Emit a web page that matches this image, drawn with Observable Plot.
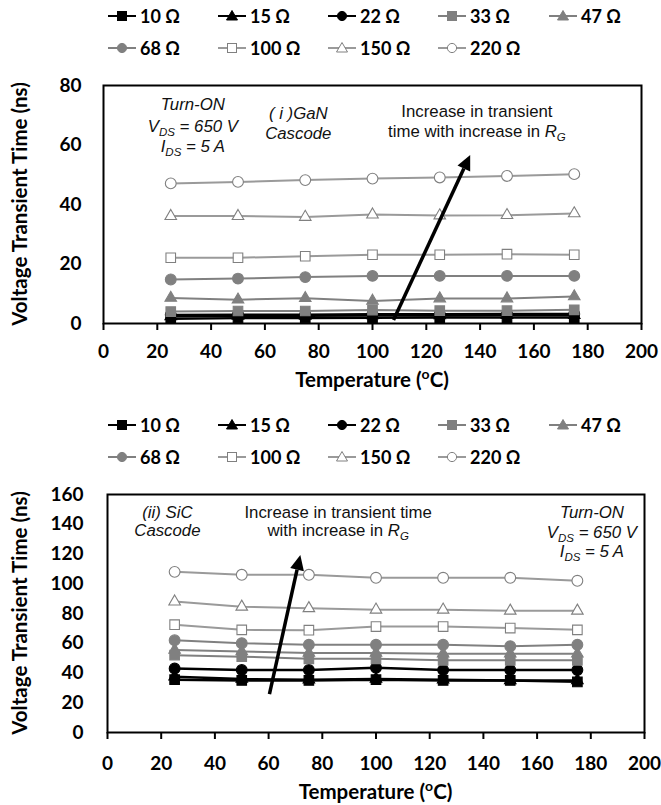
<!DOCTYPE html>
<html><head><meta charset="utf-8">
<script src="https://cdn.jsdelivr.net/npm/d3@7"></script>
<script src="https://cdn.jsdelivr.net/npm/@observablehq/plot@0.6"></script>
<style>
body{margin:0;background:#fff;}
#root{position:relative;width:661px;height:805px;overflow:hidden;font-family:Lato,"Open Sans",sans-serif;}
.legend-item{position:absolute;display:flex;align-items:center;font-weight:bold;font-size:18px;white-space:nowrap;color:#000;transform:translateY(-50%);}
.legend-item svg{margin-right:2px;}
.chart{position:absolute;left:0;}
</style></head>
<body><div id="root"></div>
<script>
// ---------- data ----------
const temperatures = [25, 50, 75, 100, 125, 150, 175];
const resistorLabels = ["10 Ω", "15 Ω", "22 Ω", "33 Ω", "47 Ω", "68 Ω", "100 Ω", "150 Ω", "220 Ω"];
const xTicks = [0, 20, 40, 60, 80, 100, 120, 140, 160, 180, 200];
const ganYTicks = [0, 20, 40, 60, 80];
const sicYTicks = [0, 20, 40, 60, 80, 100, 120, 140, 160];

// (i) GaN cascode, turn-on voltage transient time (ns)
const gan10 = [1.6, 1.8, 1.8, 1.9, 2.0, 2.0, 2.0];
const gan15 = [2.4, 2.6, 2.6, 2.7, 2.7, 2.8, 2.8];
const gan22 = [2.9, 3.0, 3.0, 3.1, 3.1, 3.2, 3.2];
const gan33 = [4.0, 4.2, 4.2, 4.5, 4.3, 4.3, 4.6];
const gan47 = [8.6, 8.0, 8.5, 7.6, 8.4, 8.4, 9.1];
const gan68 = [14.8, 15.1, 15.6, 16.0, 16.0, 16.0, 16.0];
const gan100 = [22.1, 22.1, 22.6, 23.1, 23.1, 23.3, 23.1];
const gan150 = [36.1, 36.1, 35.8, 36.6, 36.3, 36.4, 37.0];
const gan220 = [47.1, 47.6, 48.2, 48.7, 49.1, 49.6, 50.2];

// (ii) SiC cascode, turn-on voltage transient time (ns)
const sic10 = [35.5, 35.0, 35.0, 35.5, 35.0, 35.0, 34.0];
const sic15 = [37.5, 36.0, 35.5, 36.0, 35.5, 35.0, 35.0];
const sic22 = [43.0, 42.0, 42.0, 43.5, 42.0, 42.0, 42.0];
const sic33 = [52.0, 51.0, 49.5, 49.5, 48.5, 48.5, 48.5];
const sic47 = [55.5, 54.5, 53.5, 53.5, 53.0, 53.0, 53.0];
const sic68 = [62.0, 60.0, 59.0, 59.0, 59.0, 58.0, 59.0];
const sic100 = [72.5, 69.0, 68.8, 71.2, 71.2, 70.2, 69.0];
const sic150 = [88.0, 84.5, 83.5, 82.5, 82.5, 81.8, 81.8];
const sic220 = [108.0, 106.0, 106.0, 104.0, 104.0, 104.0, 102.0];

// annotation anchor points (data units)
const ganArrow = [[108, 1.0], [136.5, 56.5]];
const sicArrow = [[60.5, 25.5], [72, 119]];

// ---------- styles ----------
const BLACK = "#000", GREY = "#808080", LIGHT = "#9a9a9a";
const seriesStyles = [
  {symbol: "square", line: BLACK, fill: BLACK, stroke: BLACK},
  {symbol: "triangle", line: BLACK, fill: BLACK, stroke: BLACK},
  {symbol: "circle", line: BLACK, fill: BLACK, stroke: BLACK},
  {symbol: "square", line: GREY, fill: GREY, stroke: GREY},
  {symbol: "triangle", line: GREY, fill: GREY, stroke: GREY},
  {symbol: "circle", line: GREY, fill: GREY, stroke: GREY},
  {symbol: "square", line: LIGHT, fill: "#fff", stroke: GREY},
  {symbol: "triangle", line: LIGHT, fill: "#fff", stroke: GREY},
  {symbol: "circle", line: LIGHT, fill: "#fff", stroke: GREY}
];
const symbolR = {square: 5.4, triangle: 4.3, circle: 5.4};

const root = document.getElementById("root");

function legend(top) {
  const lefts = [108, 218, 328, 438, 549];
  resistorLabels.forEach((lab, i) => {
    const st = seriesStyles[i];
    const row = Math.floor(i / 5), col = i % 5;
    const div = document.createElement("div");
    div.className = "legend-item";
    div.style.left = lefts[col] + "px";
    div.style.top = (top + row * 32) + "px";
    let m = "";
    const cx = 14, cy = 8;
    if (st.symbol === "square") m = `<rect x="${cx-4.5}" y="${cy-4.5}" width="9" height="9" fill="${st.fill}" stroke="${st.stroke}" stroke-width="1"/>`;
    else if (st.symbol === "circle") m = `<circle cx="${cx}" cy="${cy}" r="4.6" fill="${st.fill}" stroke="${st.stroke}" stroke-width="1"/>`;
    else m = `<path d="M${cx},${cy-5.5}L${cx+5.5},${cy+4}L${cx-5.5},${cy+4}Z" fill="${st.fill}" stroke="${st.stroke}" stroke-width="1"/>`;
    div.innerHTML = `<svg width="30" height="16"><line x1="0" x2="28" y1="${cy}" y2="${cy}" stroke="${st.line}" stroke-width="2"/>${m}</svg><span>${lab}</span>`;
    root.appendChild(div);
  });
}

function chart(opts) {
  const {series, yDomain, yTicks, top, height, mt, mb, ml, mr, notes, arrow} = opts;
  const marks = [];
  series.forEach((vals, i) => {
    const st = seriesStyles[i];
    const rows = temperatures.map((t, j) => ({t, v: vals[j]}));
    marks.push(Plot.line(rows, {x: "t", y: "v", stroke: st.line, strokeWidth: i < 3 ? 2.4 : 2}));
    marks.push(Plot.dot(rows, {x: "t", y: "v", symbol: st.symbol, r: symbolR[st.symbol], fill: st.fill, stroke: st.stroke, strokeWidth: 1.1}));
  });
  marks.push(Plot.axisX(xTicks, {tickSize: 7, tickPadding: opts.xPad, strokeWidth: 2, label: null}));
  marks.push(Plot.axisY(yTicks, {tickSize: 0, tickPadding: ml - opts.labelRight, label: null}));
  marks.push(Plot.frame({stroke: "black", strokeWidth: 2}));
  const plot = Plot.plot({
    width: 661, height,
    marginTop: mt, marginBottom: mb, marginLeft: ml, marginRight: mr,
    x: {domain: [0, 200]},
    y: {domain: yDomain},
    style: {fontFamily: "Lato, sans-serif", fontSize: "19px", fontWeight: "bold", color: "#000", background: "transparent", overflow: "visible"},
    marks
  });
  plot.classList.add("chart");
  plot.style.top = top + "px";
  root.appendChild(plot);

  const sx = plot.scale("x"), sy = plot.scale("y");
  const X = d3.scaleLinear(sx.domain, sx.range);
  const Y = d3.scaleLinear(sy.domain, sy.range);
  const svg = d3.select(plot);

  // axis titles
  const xt = svg.append("text")
    .attr("x", (X(0) + X(200)) / 2).attr("y", opts.xTitleY)
    .attr("text-anchor", "middle").attr("dominant-baseline", "middle")
    .attr("font-size", 20.5).attr("font-weight", "bold").attr("fill", "#000");
  xt.append("tspan").text("Temperature (");
  xt.append("tspan").text("o").attr("font-size", 14).attr("dy", -7);
  xt.append("tspan").text("C)").attr("dy", 7);
  svg.append("text")
    .attr("transform", `translate(22,${(Y(yDomain[0]) + Y(yDomain[1])) / 2}) rotate(-90)`)
    .attr("text-anchor", "middle").attr("dominant-baseline", "middle")
    .attr("font-size", 20.5).attr("font-weight", "bold").attr("fill", "#000")
    .text("Voltage Transient Time (ns)");

  // annotations
  notes.forEach(n => {
    const t = svg.append("text")
      .attr("x", X(n.x)).attr("y", Y(n.y))
      .attr("text-anchor", "middle").attr("dominant-baseline", "middle")
      .attr("font-family", "'Liberation Sans', Arial, sans-serif")
      .attr("font-size", 16.8).attr("font-weight", "normal").attr("fill", "#111")
      .attr("font-style", n.italic ? "italic" : "normal");
    n.parts.forEach(p => {
      const s = t.append("tspan").text(p.t);
      if (p.it) s.attr("font-style", "italic");
      if (p.sub) s.attr("font-size", 11.5).attr("dy", 5);
      if (p.up) s.attr("dy", -5);
    });
  });

  // arrow
  const [a, b] = arrow;
  const x1 = X(a[0]), y1 = Y(a[1]), x2 = X(b[0]), y2 = Y(b[1]);
  const ang = Math.atan2(y2 - y1, x2 - x1);
  const hl = 15, hw = 7;
  const bx = x2 - hl * Math.cos(ang), by = y2 - hl * Math.sin(ang);
  svg.append("line").attr("x1", x1).attr("y1", y1).attr("x2", bx).attr("y2", by)
    .attr("stroke", "#000").attr("stroke-width", 3.5);
  const px = -Math.sin(ang), py = Math.cos(ang);
  svg.append("path")
    .attr("d", `M${x2},${y2}L${bx + hw * px},${by + hw * py}L${bx - hw * px},${by - hw * py}Z`)
    .attr("fill", "#000");
}

legend(16);
chart({
  series: [gan10, gan15, gan22, gan33, gan47, gan68, gan100, gan150, gan220],
  yDomain: [0, 80], yTicks: ganYTicks,
  top: 70, height: 330, mt: 15, mb: 77, ml: 103, mr: 20, labelRight: 81,
  xPad: 14, xTitleY: 312,
  arrow: ganArrow,
  notes: [
    {x: 33.4, y: 72.9, italic: true, parts: [{t: "Turn-ON"}]},
    {x: 33.4, y: 65.5, italic: true, parts: [{t: "V"}, {t: "DS", sub: true}, {t: " = 650 V", up: true}]},
    {x: 33.4, y: 58.8, italic: true, parts: [{t: "I"}, {t: "DS", sub: true}, {t: " = 5 A", up: true}]},
    {x: 72.6, y: 70.0, italic: true, parts: [{t: "( i )GaN"}]},
    {x: 72.6, y: 63.3, italic: true, parts: [{t: "Cascode"}]},
    {x: 139, y: 70.6, italic: false, parts: [{t: "Increase in transient"}]},
    {x: 139, y: 63.8, italic: false, parts: [{t: "time with increase in "}, {t: "R", it: true}, {t: "G", it: true, sub: true}]}
  ]
});

legend(425);
chart({
  series: [sic10, sic15, sic22, sic33, sic47, sic68, sic100, sic150, sic220],
  yDomain: [0, 160], yTicks: sicYTicks,
  top: 480, height: 325, mt: 14, mb: 73, ml: 107, mr: 17, labelRight: 83,
  xPad: 17, xTitleY: 314,
  arrow: sicArrow,
  notes: [
    {x: 22.5, y: 146.4, italic: true, parts: [{t: "(ii) SiC"}]},
    {x: 22.5, y: 134.7, italic: true, parts: [{t: "Cascode"}]},
    {x: 86.1, y: 146.4, italic: false, parts: [{t: "Increase in transient time"}]},
    {x: 86.1, y: 134.7, italic: false, parts: [{t: "with increase in "}, {t: "R", it: true}, {t: "G", it: true, sub: true}]},
    {x: 180.6, y: 146.4, italic: true, parts: [{t: "Turn-ON"}]},
    {x: 180.6, y: 133.4, italic: true, parts: [{t: "V"}, {t: "DS", sub: true}, {t: " = 650 V", up: true}]},
    {x: 180.6, y: 120.6, italic: true, parts: [{t: "I"}, {t: "DS", sub: true}, {t: " = 5 A", up: true}]}
  ]
});
</script>
</body></html>
